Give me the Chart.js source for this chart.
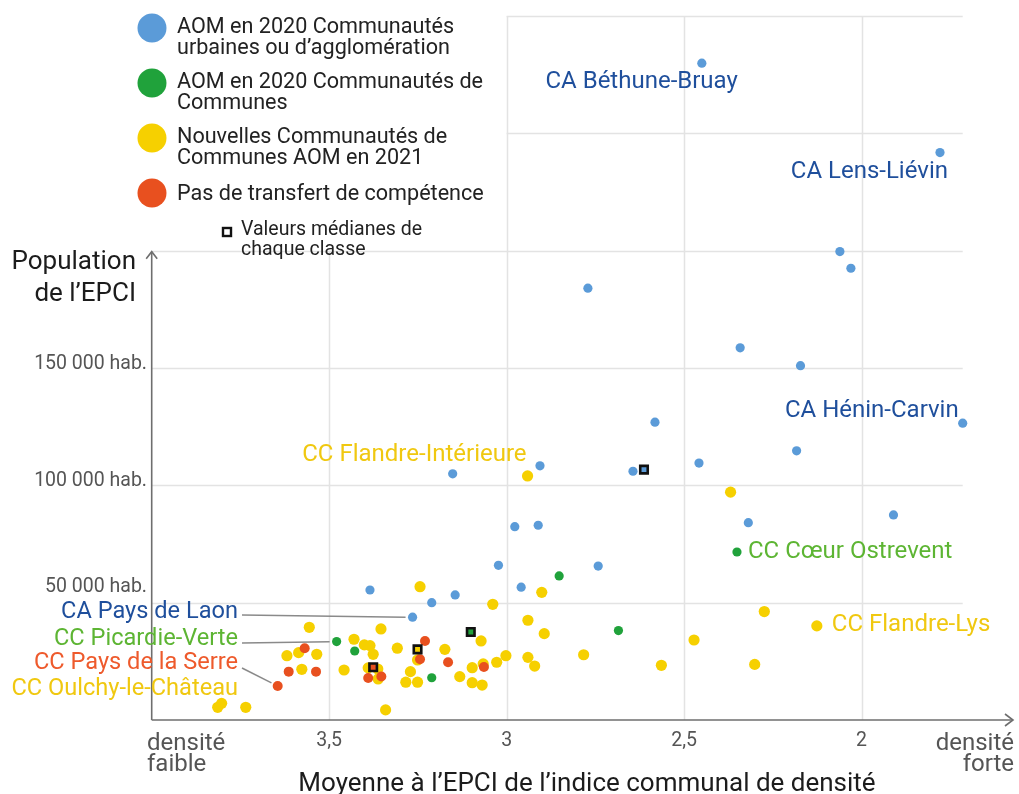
<!DOCTYPE html>
<html><head><meta charset="utf-8">
<script src="https://cdn.jsdelivr.net/npm/chart.js@4/dist/chart.umd.min.js"></script>
<style>html,body{margin:0;padding:0;background:#fff}#wrap{width:1019px;height:794px}</style>
</head><body><div id="wrap"><canvas id="c" width="1019" height="794"></canvas></div>
<script>
// ---------- DATA ----------
const densityTicks = [3.5, 3, 2.5, 2];
const densityTickLabels = ['3,5', '3', '2,5', '2'];
const populationGrid = [50000, 100000, 150000, 200000, 250000, 300000];
const populationTicks = [50000, 100000, 150000];
const populationTickLabels = ['50 000 hab.', '100 000 hab.', '150 000 hab.'];

const seriesNames = [
  ['AOM en 2020 Communautés', 'urbaines ou d’agglomération'],
  ['AOM en 2020 Communautés de', 'Communes'],
  ['Nouvelles Communautés de', 'Communes AOM en 2021'],
  ['Pas de transfert de compétence']
];
const medianName = ['Valeurs médianes de', 'chaque classe'];

// AOM 2020 – CU / CA
const caDensity = [2.450, 1.779, 2.061, 2.030, 2.771, 2.342, 2.172, 1.715, 2.582, 2.183, 2.458, 2.906, 2.644, 3.152, 1.910, 2.319, 2.911, 2.977, 3.023, 2.742, 2.959, 3.385, 3.145, 3.211, 3.265];
const caPopulation = [279900, 241800, 199600, 192500, 184000, 158600, 151000, 126500, 126900, 114700, 109500, 108300, 106000, 104900, 87400, 84100, 83000, 82400, 65900, 65600, 56600, 55400, 53300, 50000, 43800];

// AOM 2020 – CC
const ccAomDensity = [2.351, 2.852, 2.685, 3.479, 3.428, 3.211];
const ccAomPopulation = [71600, 61400, 38100, 33400, 29400, 18000];

// Nouvelles CC AOM 2021
const newAomDensity = [2.941, 2.369, 3.244, 2.901, 3.039, 2.940, 2.894, 3.002, 2.940, 2.921, 2.783, 2.564, 2.472, 2.274, 2.301, 2.126, 3.354, 3.430, 3.401, 3.385, 3.376, 3.308, 3.251, 3.174, 3.072, 3.458, 3.390, 3.363, 3.362, 3.271, 3.284, 3.251, 3.132, 3.097, 3.069, 3.097, 3.066, 3.028, 3.341, 3.556, 3.619, 3.586, 3.535, 3.577, 3.803, 3.814, 3.735];
const newAomPopulation = [104000, 97100, 56800, 54400, 49300, 42500, 36800, 27400, 26700, 23000, 27800, 23300, 34100, 46200, 23700, 40100, 38800, 34400, 32000, 31700, 28000, 30600, 25600, 30100, 33700, 21300, 22200, 21700, 17500, 20600, 16100, 16100, 18500, 15900, 14900, 22300, 23900, 24600, 4300, 39500, 27400, 28700, 28000, 21600, 7100, 5400, 5400];

// Pas de transfert
const noTransferDensity = [3.569, 3.614, 3.537, 3.645, 3.230, 3.244, 3.165, 3.064, 3.390, 3.353];
const noTransferPopulation = [30600, 20600, 20600, 14500, 33700, 25900, 24600, 22600, 17900, 18500];

// Médianes (CA, CC AOM, nouvelles, pas de transfert)
const medianDensity = [2.613, 3.101, 3.251, 3.376];
const medianPopulation = [106700, 37500, 30100, 22500];

// ---------- STYLE ----------
const COL = { ca: '#5b9bd8', cc: '#20a23b', nw: '#f6d000', no: '#e8501f' };
const TXT = { ca: '#1f4f9c', cc: '#5db533', nw: '#f0c810', no: '#ee5a2c' };
const FONT = 'Roboto, "Liberation Sans", sans-serif';
const TY = 2; // vertical text nudge

const pts = (xs, ys) => xs.map((v, i) => ({ x: v, y: ys[i] }));

const datasets = [
  { key: 'md', data: pts(medianDensity, medianPopulation), pointStyle: 'rect', pointRadius: 5.3, pointBorderWidth: 2.6, pointBorderColor: '#111', pointBackgroundColor: [COL.ca, COL.cc, COL.nw, COL.no] },
  { key: 'no', data: pts(noTransferDensity, noTransferPopulation), pointRadius: 5, pointBackgroundColor: COL.no },
  { key: 'cc', data: pts(ccAomDensity, ccAomPopulation), pointRadius: 4.6, pointBackgroundColor: COL.cc },
  { key: 'ca', data: pts(caDensity, caPopulation), pointRadius: 4.6, pointBackgroundColor: COL.ca },
  { key: 'nw', data: pts(newAomDensity, newAomPopulation), pointRadius: 5.6, pointBackgroundColor: COL.nw }
].map(d => Object.assign({ pointBorderWidth: 0, borderWidth: 0, pointHoverRadius: d.pointRadius, clip: false, showLine: false }, d));

const pointLabels = [
  { text: 'CA Béthune-Bruay', key: 'ca', i: 0, dx: 36, dy: 17, align: 'right', color: TXT.ca },
  { text: 'CA Lens-Liévin', key: 'ca', i: 1, dx: 8, dy: 17, align: 'right', color: TXT.ca },
  { text: 'CA Hénin-Carvin', key: 'ca', i: 7, dx: -4, dy: -14, align: 'right', color: TXT.ca },
  { text: 'CC Cœur Ostrevent', key: 'cc', i: 0, dx: 11, dy: -2, align: 'left', color: TXT.cc },
  { text: 'CC Flandre-Lys', key: 'nw', i: 15, dx: 15, dy: -3, align: 'left', color: TXT.nw },
  { text: 'CC Flandre-Intérieure', key: 'nw', i: 0, dx: -1, dy: -23, align: 'right', color: TXT.nw }
];
const sideLabels = [
  { text: 'CA Pays de Laon', key: 'ca', i: 24, ly: 610, lineY: 615, color: TXT.ca },
  { text: 'CC Picardie-Verte', key: 'cc', i: 3, ly: 637, lineY: 643, color: TXT.cc },
  { text: 'CC Pays de la Serre', key: 'no', i: 3, ly: 661, lineY: 668, color: TXT.no },
  { text: 'CC Oulchy-le-Château', key: null, ly: 687, color: TXT.nw }
];

const decor = {
  id: 'decor',
  beforeDatasetsDraw(chart) {
    const { ctx, chartArea: a, scales: { x, y } } = chart;
    ctx.save();
    ctx.strokeStyle = '#e3e3e3';
    ctx.lineWidth = 1.5;
    populationGrid.forEach(v => {
      const py = Math.round(y.getPixelForValue(v)) + 0.5;
      const x0 = v > 200000 ? x.getPixelForValue(3) : a.left;
      ctx.beginPath(); ctx.moveTo(x0, py); ctx.lineTo(a.right, py); ctx.stroke();
    });
    densityTicks.forEach(v => {
      const px = Math.round(x.getPixelForValue(v)) + 0.5;
      const top = v >= 3.5 ? y.getPixelForValue(200000) : a.top;
      ctx.beginPath(); ctx.moveTo(px, top); ctx.lineTo(px, a.bottom); ctx.stroke();
    });
    // axes
    ctx.strokeStyle = '#6e6e6e';
    ctx.lineWidth = 1.6;
    const by = a.bottom, lx = a.left;
    ctx.beginPath(); ctx.moveTo(lx, by); ctx.lineTo(1013, by); ctx.stroke();
    ctx.beginPath(); ctx.moveTo(1005, by - 6); ctx.lineTo(1013, by); ctx.lineTo(1005, by + 6); ctx.stroke();
    const ty = y.getPixelForValue(200000) + 1;
    ctx.beginPath(); ctx.moveTo(lx, by); ctx.lineTo(lx, ty); ctx.stroke();
    ctx.beginPath(); ctx.moveTo(lx - 5.5, ty + 7); ctx.lineTo(lx, ty); ctx.lineTo(lx + 5.5, ty + 7); ctx.stroke();
    ctx.restore();
  },
  afterDatasetsDraw(chart) {
    const { ctx, chartArea: a, scales: { x, y } } = chart;
    const metaOf = k => chart.getDatasetMeta(datasets.findIndex(d => d.key === k));
    ctx.save();
    ctx.textBaseline = 'middle';
    // x ticks
    ctx.fillStyle = '#555';
    ctx.font = '19.5px ' + FONT;
    ctx.textAlign = 'center';
    densityTicks.forEach((v, i) => ctx.fillText(densityTickLabels[i], x.getPixelForValue(v), 741));
    // y ticks
    ctx.textAlign = 'right';
    populationTicks.forEach((v, i) => {
      const off = v === 50000 ? -18 : -6;
      ctx.fillText(populationTickLabels[i], 147, y.getPixelForValue(v) + off + TY);
    });
    // density ends
    ctx.font = '24px ' + FONT;
    ctx.textAlign = 'left';
    ctx.fillText('densité', 147, 742 + TY); ctx.fillText('faible', 147, 763 + TY);
    ctx.textAlign = 'right';
    ctx.fillText('densité', 1014, 742 + TY); ctx.fillText('forte', 1014, 763 + TY);
    // axis titles
    ctx.fillStyle = '#1c1c1c';
    ctx.font = '26px ' + FONT;
    ctx.textAlign = 'center';
    ctx.textBaseline = 'alphabetic';
    ctx.fillText('Moyenne à l’EPCI de l’indice communal de densité', 587, 791);
    ctx.textBaseline = 'middle';
    ctx.textAlign = 'right';
    ctx.fillText('Population', 136, 260 + TY);
    ctx.fillText('de l’EPCI', 136, 292 + TY);

    // legend
    const cols = [COL.ca, COL.cc, COL.nw, COL.no];
    const cy = [28, 83, 138, 193];
    ctx.font = '21.6px ' + FONT;
    ctx.textAlign = 'left';
    seriesNames.forEach((lines, k) => {
      ctx.fillStyle = cols[k];
      ctx.beginPath(); ctx.arc(152, cy[k], 14.5, 0, Math.PI * 2); ctx.fill();
      ctx.fillStyle = '#222';
      lines.forEach((t, j) => ctx.fillText(t, 177, cy[k] - (lines.length > 1 ? 3 : 1) + j * 21.5 + TY + 0.5));
    });
    ctx.fillStyle = '#fff';
    ctx.strokeStyle = '#111';
    ctx.lineWidth = 2.4;
    ctx.fillRect(223, 228, 8, 8); ctx.strokeRect(223, 228, 8, 8);
    ctx.fillStyle = '#222';
    ctx.font = '19.5px ' + FONT;
    ctx.fillText(medianName[0], 241, 228 + TY);
    ctx.fillText(medianName[1], 241, 248 + TY);

    // point labels
    ctx.font = '24px ' + FONT;
    pointLabels.forEach(l => {
      const el = metaOf(l.key).data[l.i];
      ctx.fillStyle = l.color;
      ctx.textAlign = l.align;
      ctx.fillText(l.text, el.x + l.dx, el.y + l.dy + TY);
    });
    // side labels with leader lines
    ctx.font = '23.6px ' + FONT;
    sideLabels.forEach(l => {
      ctx.fillStyle = l.color;
      ctx.textAlign = 'right';
      ctx.fillText(l.text, 238, l.ly + TY);
      if (l.key) {
        const el = metaOf(l.key).data[l.i];
        const x0 = 242, y0 = l.lineY;
        const dx = el.x - x0, dy = el.y - y0, len = Math.hypot(dx, dy);
        const s = (len - 7) / len;
        ctx.strokeStyle = '#8a8a8a';
        ctx.lineWidth = 1.5;
        ctx.beginPath(); ctx.moveTo(x0, y0); ctx.lineTo(x0 + dx * s, y0 + dy * s); ctx.stroke();
      }
    });
    ctx.restore();
  }
};

new Chart(document.getElementById('c'), {
  type: 'scatter',
  data: { datasets },
  options: {
    responsive: false,
    animation: false,
    events: [],
    layout: { padding: { left: 151.7, right: 56.3, top: 16, bottom: 74 } },
    plugins: { legend: { display: false }, tooltip: { enabled: false } },
    scales: {
      x: { type: 'linear', reverse: true, min: 1.715, max: 4.0, display: false },
      y: { type: 'linear', min: 0, max: 300000, display: false }
    }
  },
  plugins: [decor]
});
</script>
</body></html>
